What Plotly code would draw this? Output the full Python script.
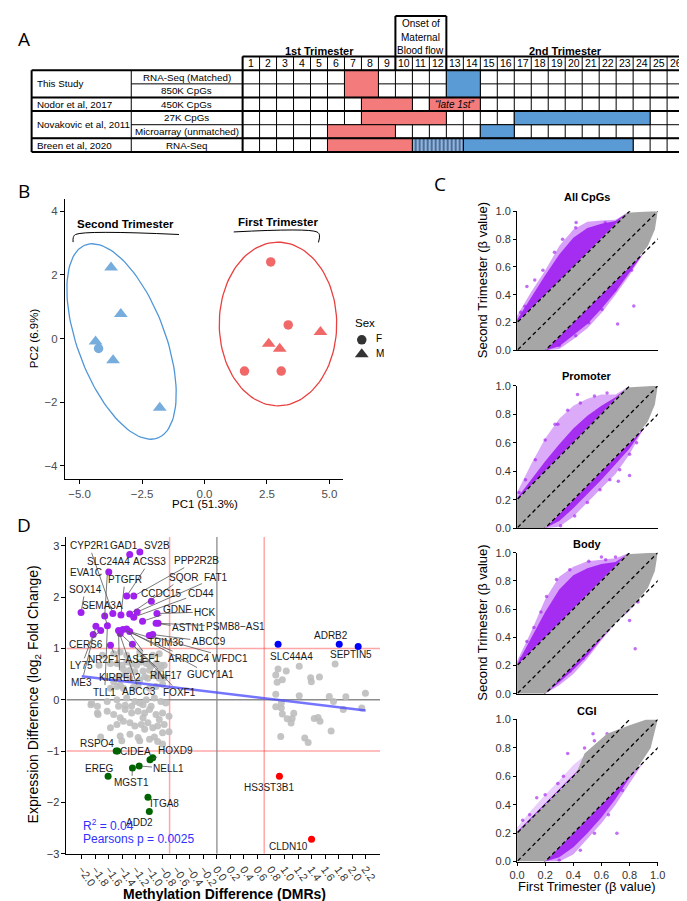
import math
import plotly.graph_objects as go

W, H = 687, 901
FONT = "Liberation Sans, Arial, Helvetica, sans-serif"
LFONT = "Open Sans, Liberation Sans, sans-serif"

# ====================== DATA ======================
# ---- Panel A: study timeline table ----
week_numbers = list(range(1, 27))
study_names = ["This Study", "Nodor et al, 2017", "Novakovic et al, 2011", "Breen et al, 2020"]
study_row_start = [0, 2, 3, 5]
study_row_end = [2, 3, 5, 6]
platform_names = ["RNA-Seq (Matched)", "850K CpGs", "450K CpGs", "27K CpGs",
                  "Microarray (unmatched)", "RNA-Seq"]
block_row_start = [0, 0, 2, 2, 3, 3, 4, 4, 5, 5, 5]
block_row_end = [2, 2, 3, 3, 4, 4, 5, 5, 6, 6, 6]
block_week_start = [7, 13, 8, 12, 8, 17, 6, 15, 6, 11, 14]
block_week_end = [8, 14, 10, 14, 12, 24, 9, 16, 10, 13, 23]
block_kind = ["first", "second", "first", "late", "first", "second", "first", "second",
              "first", "onset", "second"]
trimester_labels = ["1st Trimester", "2nd Trimester"]
trimester_first_week = [1, 13]
trimester_last_week = [9, 26]
onset_first_week, onset_last_week = 10, 12
onset_lines = ["Onset of", "Maternal", "Blood flow"]
late_label = "\u201clate 1st\u201d"

# ---- Panel B: PCA ----
pc2nd_m_x = [-3.74, -3.35, -4.36, -3.66, -1.79]
pc2nd_m_y = [2.23, 0.77, -0.09, -0.68, -2.17]
pc2nd_f_x = [-4.24]
pc2nd_f_y = [-0.31]
pc1st_f_x = [2.65, 3.35, 1.60, 3.07]
pc1st_f_y = [2.41, 0.43, -1.02, -1.02]
pc1st_m_x = [2.57, 3.01, 4.64]
pc1st_m_y = [-0.16, -0.32, 0.21]
pc1_title = "PC1 (51.3%)"
pc2_title = "PC2 (6.9%)"
pc_xticks = [-5.0, -2.5, 0.0, 2.5, 5.0]
pc_yticks = [-4, -2, 0, 2, 4]
sec_bracket_x = [-5.26, -5.25, -5.16, -1.02]
sec_bracket_y = [3.03, 3.18, 3.27, 3.27]
first_bracket_x = [1.17, 4.50, 4.60, 4.56]
first_bracket_y = [3.35, 3.35, 3.25, 3.02]

# ---- Panel C: beta value clouds (outlines) ----
c_titles = ["All CpGs", "Promoter", "Body", "CGI"]
up_x = [0.0, 0.1, 0.2, 0.3, 0.4, 0.5, 0.6, 0.7, 0.8]
lo_x = [0.2, 0.3, 0.4, 0.5, 0.6, 0.7, 0.8, 0.9, 1.0]
all_up_outer = [0.25, 0.42, 0.575, 0.75, 0.87, 0.925, 0.935, 0.94, 1.0]
all_up_dense = [0.22, 0.38, 0.54, 0.69, 0.81, 0.88, 0.91, 0.93, 1.0]
all_lo_outer = [0.0, 0.01, 0.08, 0.16, 0.27, 0.40, 0.54, 0.70, 0.80]
all_lo_dense = [0.0, 0.03, 0.11, 0.19, 0.30, 0.42, 0.56, 0.70, 0.80]
pro_up_outer = [0.25, 0.45, 0.63, 0.77, 0.86, 0.91, 0.94, 0.94, 1.0]
pro_up_dense = [0.21, 0.34, 0.47, 0.59, 0.70, 0.79, 0.86, 0.92, 1.0]
pro_lo_outer = [0.0, 0.01, 0.08, 0.18, 0.28, 0.38, 0.52, 0.70, 0.80]
pro_lo_dense = [0.0, 0.05, 0.14, 0.24, 0.34, 0.45, 0.56, 0.70, 0.80]
body_up_outer = [0.23, 0.44, 0.67, 0.83, 0.90, 0.94, 0.95, 0.96, 1.0]
body_up_dense = [0.21, 0.39, 0.58, 0.74, 0.84, 0.89, 0.92, 0.935, 1.0]
body_lo_outer = [0.0, 0.06, 0.14, 0.25, 0.38, 0.50, 0.59, 0.70, 0.80]
body_lo_dense = [0.0, 0.08, 0.17, 0.27, 0.39, 0.50, 0.60, 0.70, 0.80]
cgi_up_outer = [0.24, 0.36, 0.47, 0.57, 0.68, 0.76, 0.84, 0.91, 1.0]
cgi_up_dense = [0.21, 0.31, 0.41, 0.51, 0.61, 0.71, 0.81, 0.90, 1.0]
cgi_lo_outer = [0.0, 0.0, 0.05, 0.16, 0.27, 0.40, 0.55, 0.70, 0.80]
cgi_lo_dense = [0.0, 0.03, 0.10, 0.20, 0.31, 0.44, 0.59, 0.70, 0.80]
cloud_alpha_outer = [0.42, 0.38, 0.42, 0.22]
grey_x = [0.0, 0.2, 0.85, 0.93, 0.98, 1.0, 0.96, 0.78, 0.0]
grey_y = [0.0, 0.0, 0.65, 0.75, 0.87, 1.0, 1.0, 0.99, 0.2]
cgi_grey_x = [0.0, 0.2, 0.85, 0.95, 1.0, 0.92, 0.8, 0.64, 0.48, 0.42, 0.0]
cgi_grey_y = [0.0, 0.0, 0.65, 0.80, 1.0, 1.0, 0.96, 0.90, 0.76, 0.62, 0.2]
all_out_x = [0.83, 0.715, 0.42, 0.07, 0.026, 0.056, 0.126, 0.184, 0.266, 0.324, 0.417, 0.627,
             0.837, 0.814, 0.697, 0.604, 0.51, 0.417, 0.30]
all_out_y = [0.32, 0.19, 0.92, 0.46, 0.275, 0.318, 0.506, 0.576, 0.706, 0.80, 0.882, 0.918,
             0.659, 0.576, 0.435, 0.294, 0.20, 0.106, 0.035]
pro_out_x = [0.29, 0.43, 0.72, 0.80, 0.014, 0.06, 0.13, 0.20, 0.27, 0.36, 0.45, 0.55, 0.64,
             0.31, 0.41, 0.50, 0.59, 0.66, 0.73, 0.80, 0.85, 0.88]
pro_out_y = [0.73, 0.94, 0.33, 0.37, 0.25, 0.34, 0.48, 0.62, 0.73, 0.83, 0.88, 0.93, 0.95,
             0.016, 0.085, 0.18, 0.27, 0.34, 0.41, 0.52, 0.60, 0.69]
body_out_x = [0.84, 0.60, 0.03, 0.07, 0.12, 0.17, 0.21, 0.28, 0.375, 0.51, 0.63, 0.70,
              0.28, 0.375, 0.47, 0.56, 0.65, 0.77, 0.86, 0.80]
body_out_y = [0.32, 0.97, 0.25, 0.37, 0.47, 0.58, 0.69, 0.81, 0.88, 0.94, 0.95, 0.97,
              0.09, 0.16, 0.25, 0.37, 0.48, 0.58, 0.65, 0.52]
cgi_out_x = [0.71, 0.54, 0.36, 0.29, 0.04, 0.09, 0.14, 0.20, 0.33, 0.48, 0.55, 0.64,
             0.75, 0.65, 0.55, 0.45, 0.30]
cgi_out_y = [0.20, 0.90, 0.76, 0.55, 0.29, 0.33, 0.45, 0.47, 0.60, 0.80, 0.85, 0.90,
             0.50, 0.33, 0.20, 0.08, 0.01]
diff_cut = 0.2
diag_offsets = [0.2, 0.0, -0.2]
beta_ticks = [0.0, 0.2, 0.4, 0.6, 0.8, 1.0]

# ---- Panel D: methylation vs expression ----
grey_dx = [-1.479, -1.407, -1.334, -1.262, -1.19, -1.118, -1.045, -0.973, -0.901, -0.829,
           -1.383, -1.286, -1.214, -1.093, -0.997, -0.877, -1.455, -1.358, -1.286, -1.069,
           -1.142, -1.021, -0.925, -0.853, -0.78, -1.527, -1.479, -1.383, -1.431, -1.238,
           -1.166, -0.997, -0.901, -0.804, -1.575, -1.864, -1.768, -1.623, -1.479, -1.334,
           -1.214, -1.142, -1.045, -0.925, -0.829, -0.756, -1.455, -1.358, -1.262, -1.093,
           -0.973, -1.768, -1.623, -1.527, -1.358, -1.262, -1.166, -1.069, -0.997, -0.901,
           -0.804, -0.708, -1.431, -1.093, -0.853, -1.575, -1.479, -1.383, -1.286, -1.214,
           -1.118, -1.021, -0.949, -0.877, -0.78, -1.069, -0.804, -0.708, -1.72, -1.431,
           -1.286, -1.166, -0.997, -0.925, -1.142, -0.877, -0.804, -1.696, -1.527, -1.43,
           -1.334, -1.142, -0.949, -0.853, -1.744, -1.575, -0.997, -0.829, -0.78, -1.758,
           -1.407, -1.854,
           0.905, 1.218, 0.871, 1.026, 0.891, 0.968, 1.387, 1.397, 1.517, 1.749, 0.871, 1.218,
           1.662, 1.725, 1.908, 2.197, 0.871, 0.953, 0.968, 1.137, 1.04, 1.113, 1.098, 1.44,
           1.497, 1.526, 1.869, 2.143, 1.69, 0.944, 1.30, 1.35, 0.953]
grey_dy = [0.705, 0.673, 0.737, 0.705, 0.673, 0.737, 0.705, 0.66, 0.705, 0.673,
           0.596, 0.577, 0.545, 0.558, 0.577, 0.545, 0.449, 0.481, 0.417, 0.449,
           0.385, 0.417, 0.468, 0.417, 0.429, 0.353, 0.256, 0.224, 0.288, 0.237,
           0.288, 0.224, 0.256, 0.301, 0.224, -0.096, -0.128, -0.032, 0.0, 0.032,
           -0.032, -0.064, 0.0, 0.032, -0.032, -0.064, -0.128, -0.109, -0.128, -0.096,
           -0.128, -0.256, -0.224, -0.288, -0.192, -0.256, -0.224, -0.256, -0.192, -0.288,
           -0.256, -0.32, -0.353, -0.353, -0.385, -0.545, -0.481, -0.417, -0.449, -0.513,
           -0.481, -0.449, -0.545, -0.513, -0.481, -0.577, -0.641, -0.622, -0.724, -0.705,
           -0.673, -0.737, -0.769, -0.724, -0.801, -0.814, -0.865, 0.865, 0.897, 0.93,
           0.865, 0.93, 0.865, 0.897, 0.673, 0.705, 0.673, 0.609, 0.673, -0.29,
           -0.80, -0.064,
           0.60, 0.654, 0.481, 0.558, 0.34, 0.39, 0.429, 0.353, 0.442, 0.699, 0.109, 0.077,
           0.064, -0.032, 0.058, 0.128, -0.135, -0.16, -0.276, -0.263, -0.372, -0.365, -0.455, -0.365,
           -0.346, -0.417, -0.192, -0.16, -0.609, -0.718, -0.744, -0.833, -0.064]
purple_dx = [-1.14, -1.29, -1.60, -1.335, -1.23, -0.97, -2.01, -1.66, -1.54, -1.42, -1.29, -1.18,
             -1.23, -0.887, -1.10, -0.90, -0.87, -1.79, -1.62, -1.72, -1.83, -1.455, -1.39,
             -1.335, -1.29, -1.43, -1.0, -0.95, -1.575, -1.25]
purple_dy = [2.88, 2.83, 2.49, 2.02, 2.02, 1.92, 1.70, 1.63, 1.68, 1.65, 1.67, 1.71,
             1.61, 1.68, 1.53, 1.49, 1.49, 1.43, 1.44, 1.35, 1.27, 1.35, 1.37,
             1.38, 1.33, 1.29, 1.25, 1.27, 1.06, 1.08]
green_dx = [-1.49, -1.47, -0.99, -0.95, -1.15, -1.25, -1.61, -1.02, -1.0]
green_dy = [-1.0, -1.0, -1.17, -1.13, -1.29, -1.33, -1.49, -1.90, -2.18]
blue_dx = [0.905, 1.81, 2.09]
blue_dy = [1.08, 1.08, 1.04]
red_dx = [0.925, 1.40]
red_dy = [-1.49, -2.72]
reg_x = [-2.0, 2.2]
reg_y = [0.46, -0.21]
meth_cut = 0.7
expr_cut = 1.0
d_xticks = [round(-2.0 + 0.2 * i, 1) for i in range(22)]
d_yticks = [-3, -2, -1, 0, 1, 2, 3]

lab_names = ["CYP2R1", "GAD1", "SV2B", "SLC24A4", "ACSS3", "PPP2R2B", "EVA1C", "PTGFR",
             "SQOR", "FAT1", "SOX14", "CCDC15", "CD44", "SEMA3A", "GDNF", "HCK", "ASTN1",
             "PSMB8\u2212AS1", "CERS6", "TRIM36", "ABCC9", "LY75", "NR2F1\u2212AS1", "LEF1",
             "ARRDC4", "WFDC1", "ME3", "KIRREL2", "RNF17", "GUCY1A1", "TLL1", "ABCC3", "FOXF1",
             "RSPO4", "CIDEA", "HOXD9", "NELL1", "MGST1", "EREG", "ITGA8", "ADD2",
             "SLC44A4", "ADRB2", "SEPTIN5", "HS3ST3B1", "CLDN10"]
lab_px = [-1.54, -1.29, -1.14, -1.66, -1.335, -1.23, -1.60, -1.42, -1.29, -1.18, -2.01, -0.97,
          -1.23, -1.62, -1.10, -0.887, -0.90, -0.87, -1.72, -1.29, -0.95, -1.83, -1.575, -1.335,
          -1.39, -1.0, -1.79, -1.455, -1.43, -1.29, -1.62, -1.455, -1.25,
          -1.49, -1.47, -0.99, -1.15, -1.25, -1.61, -1.02, -1.0,
          0.905, 1.81, 2.09, 0.925, 1.40]
lab_py = [1.68, 2.83, 2.88, 1.63, 2.02, 2.02, 2.49, 1.65, 1.67, 1.71, 1.70, 1.92,
          1.61, 1.44, 1.53, 1.68, 1.49, 1.49, 1.35, 1.33, 1.27, 1.27, 1.06, 1.38,
          1.37, 1.25, 1.43, 1.35, 1.29, 1.33, 1.44, 1.35, 1.08,
          -1.0, -1.0, -1.17, -1.29, -1.33, -1.49, -1.90, -2.18,
          1.08, 1.08, 1.04, -1.49, -2.72]
lab_tx = [-1.89, -1.38, -0.89, -1.61, -1.0, -0.30, -1.94, -1.36, -0.49, -0.02, -1.95, -0.82,
          -0.24, -1.70, -0.59, -0.18, -0.42, 0.28, -1.94, -0.76, -0.12, -2.0, -1.48, -1.02,
          -0.42, 0.20, -2.0, -1.44, -0.76, -0.10, -1.66, -1.15, -0.56,
          -1.77, -1.20, -0.61, -0.71, -1.26, -1.73, -0.77, -1.15,
          1.11, 1.685, 1.98, 0.775, 1.065]
lab_ty = [3.0, 3.0, 3.0, 2.69, 2.69, 2.71, 2.48, 2.34, 2.38, 2.38, 2.15, 2.08,
          2.08, 1.83, 1.75, 1.71, 1.40, 1.42, 1.07, 1.12, 1.13, 0.67, 0.78, 0.81,
          0.81, 0.81, 0.34, 0.44, 0.47, 0.49, 0.15, 0.16, 0.14,
          -0.85, -1.0, -0.98, -1.34, -1.62, -1.34, -2.02, -2.39,
          0.85, 1.26, 0.88, -1.72, -2.87]
lab_seg = [1, 0, 0, 1, 1, 1, 0, 1, 1, 1, 1, 0,
           1, 1, 1, 1, 1, 1, 1, 1, 1, 1, 1, 1,
           1, 1, 1, 1, 1, 1, 1, 1, 1,
           0, 0, 1, 1, 1, 0, 0, 0,
           0, 0, 0, 0, 0]

# ====================== LAYOUT HELPERS ======================
def dom_x(a, b):
    return [a / W, b / W]

def dom_y(top, bottom):
    return [1 - bottom / H, 1 - top / H]

annotations = []
shapes = []

def ptext(x, y, s, size=11, color="black", xanchor="center", yanchor="middle",
          angle=0, family=FONT):
    annotations.append(dict(x=x / W, y=1 - y / H, xref="paper", yref="paper", text=s,
                            showarrow=False, xanchor=xanchor, yanchor=yanchor,
                            textangle=angle, font=dict(size=size, color=color, family=family)))

fig = go.Figure()

# ====================== PANEL A ======================
A_LEFT_PX, A_SPLIT_PX, A_GRID_PX, A_RIGHT_PX = 16, 118, 232, 684
A_ROW_TOP_PX, A_ROW_H = 57.0, 13.8
col_w = (A_RIGHT_PX - A_GRID_PX) / 26.0

def wk_u(p):
    return 0.5 + (p - A_GRID_PX) / col_w

def row_u(p):
    return (p - A_ROW_TOP_PX) / A_ROW_H

t_left, t_split, t_right = wk_u(A_LEFT_PX), wk_u(A_SPLIT_PX), 26.5
onset_top = row_u(2)

def aline(x0, y0, x1, y1, w=1, layer="below"):
    shapes.append(dict(type="line", xref="x", yref="y", x0=x0, y0=y0, x1=x1, y1=y1,
                       line=dict(color="black", width=w), layer=layer))

for k in range(27):
    aline(k + 0.5, -1, k + 0.5, 6)
for r in range(1, 6):
    aline(t_split if r in (1, 4) else t_left, r, t_right, r)
aline(t_split, 0, t_split, 6)

colors = {"first": "#F37B7B", "late": "#F37B7B", "second": "#5B9BD5"}
for r0, r1, w0, w1, kind in zip(block_row_start, block_row_end, block_week_start,
                                 block_week_end, block_kind):
    if kind == "onset":
        fig.add_trace(go.Scatter(
            x=[w0 - 0.5, w1 + 0.5, w1 + 0.5, w0 - 0.5, w0 - 0.5], y=[r0, r0, r1, r1, r0],
            mode="lines", fill="toself", line=dict(color="black", width=1),
            fillcolor="#8DB6E0",
            fillpattern=dict(shape="|", fgcolor="#16244D", bgcolor="#8DB6E0", size=4, solidity=0.5),
            xaxis="x", yaxis="y", hoverinfo="skip"))
    else:
        shapes.append(dict(type="rect", xref="x", yref="y", x0=w0 - 0.5, x1=w1 + 0.5,
                           y0=r0, y1=r1, fillcolor=colors[kind],
                           line=dict(color="black", width=1), layer="below"))

TH = 2
for (x0, y0, x1, y1) in [(t_left, 0, t_right, 0), (t_left, 6, t_right, 6),
                         (t_left, 0, t_left, 6), (t_right, -1, t_right, 6),
                         (0.5, -1, t_right, -1), (0.5, -1, 0.5, 6),
                         (t_left, 2, t_right, 2), (t_left, 3, t_right, 3), (t_left, 5, t_right, 5),
                         (onset_first_week - 0.5, onset_top, onset_last_week + 0.5, onset_top),
                         (onset_first_week - 0.5, onset_top, onset_first_week - 0.5, 0),
                         (onset_last_week + 0.5, onset_top, onset_last_week + 0.5, 0)]:
    aline(x0, y0, x1, y1, w=TH, layer="above")

def atext(x, y, s, size=10.5, xanchor="center", color="black"):
    annotations.append(dict(x=x, y=y, xref="x", yref="y", text=s, showarrow=False,
                            xanchor=xanchor, yanchor="middle",
                            font=dict(size=size, color=color, family=FONT)))

for k in week_numbers:
    atext(k, -0.5, str(k))
for lab, a, b in zip(trimester_labels, trimester_first_week, trimester_last_week):
    atext((a + b) / 2, row_u(37), "<b>" + lab + "</b>", size=11)
for i, s in enumerate(onset_lines):
    atext((onset_first_week + onset_last_week) / 2, row_u(10 + 13.5 * i), s, size=10)
for s, a, b in zip(study_names, study_row_start, study_row_end):
    atext(wk_u(19), (a + b) / 2, s, xanchor="left", size=9.8)
for i, s in enumerate(platform_names):
    atext((t_split + 0.5) / 2, i + 0.5, s, size=9.8)
atext(13, 2.5, "<i>" + late_label + "</i>", size=10)

# ====================== PANEL B ======================
B_XPX, B_YPX = (50, 335), (187, 471)
B_XR, B_YR = (-5.59, 5.55), (-4.4, 4.4)
bsx = (B_XPX[1] - B_XPX[0]) / (B_XR[1] - B_XR[0])
bsy = (B_YPX[1] - B_YPX[0]) / (B_YR[1] - B_YR[0])
BLUE_PT, RED_PT = "#68A4D8", "#EE5858"
BLUE_EL, RED_EL = "#4F96D8", "#E8403F"

def ellipse(cx, cy, a_px, b_px, tilt_deg, n=120):
    th = math.radians(tilt_deg)
    ux, uy = math.sin(th), math.cos(th)
    vx, vy = math.cos(th), -math.sin(th)
    xs, ys = [], []
    for i in range(n + 1):
        t = 2 * math.pi * i / n
        dx = a_px * math.cos(t) * ux + b_px * math.sin(t) * vx
        dy = a_px * math.cos(t) * uy + b_px * math.sin(t) * vy
        xs.append(cx + dx / bsx)
        ys.append(cy - dy / bsy)
    return xs, ys

ex, ey = ellipse(-3.32, -0.09, 104.6, 44.8, 20.8)
fig.add_trace(go.Scatter(x=ex, y=ey, mode="lines", line=dict(color=BLUE_EL, width=1.3),
                         xaxis="x2", yaxis="y2", hoverinfo="skip"))
ex, ey = ellipse(2.94, 0.46, 2.57 * bsy, 2.35 * bsx, 0.0)
fig.add_trace(go.Scatter(x=ex, y=ey, mode="lines", line=dict(color=RED_EL, width=1.3),
                         xaxis="x2", yaxis="y2", hoverinfo="skip"))
for xs, ys, col, sym, sz in [(pc2nd_m_x, pc2nd_m_y, BLUE_PT, "triangle-up", 12),
                             (pc2nd_f_x, pc2nd_f_y, BLUE_PT, "circle", 9.5),
                             (pc1st_f_x, pc1st_f_y, RED_PT, "circle", 9.5),
                             (pc1st_m_x, pc1st_m_y, RED_PT, "triangle-up", 12)]:
    fig.add_trace(go.Scatter(x=xs, y=ys, mode="markers", xaxis="x2", yaxis="y2",
                             marker=dict(color=col, symbol=sym, size=sz, opacity=0.9,
                                         line=dict(width=0)), hoverinfo="skip"))
for bx, by in [(sec_bracket_x, sec_bracket_y), (first_bracket_x, first_bracket_y)]:
    fig.add_trace(go.Scatter(x=bx, y=by, mode="lines", line=dict(color="black", width=1),
                             line_shape="spline", xaxis="x2", yaxis="y2", hoverinfo="skip"))
annotations.append(dict(x=-3.16, y=3.59, xref="x2", yref="y2", text="<b>Second Trimester</b>",
                        showarrow=False, font=dict(size=11.5, family=FONT, color="black")))
annotations.append(dict(x=2.93, y=3.65, xref="x2", yref="y2", text="<b>First Trimester</b>",
                        showarrow=False, font=dict(size=11.5, family=FONT, color="black")))
ptext(193, 497, pc1_title, size=11.5)
ptext(18, 329, pc2_title, size=11.5, angle=-90)

fig.add_trace(go.Scatter(x=[0.225], y=[0.68], mode="markers", xaxis="x8", yaxis="y8",
                         marker=dict(color="#333333", symbol="circle", size=9.5), hoverinfo="skip"))
fig.add_trace(go.Scatter(x=[0.225], y=[0.22], mode="markers", xaxis="x8", yaxis="y8",
                         marker=dict(color="#333333", symbol="triangle-up", size=12), hoverinfo="skip"))
ptext(345, 313, "Sex", size=11.5, xanchor="left")
ptext(367, 329, "F", size=10, xanchor="left")
ptext(367, 344, "M", size=10, xanchor="left")

# ====================== PANEL C ======================
C_XPX = (513, 657)
C_YPX = [(200, 341), (377, 521), (546, 689), (715, 859)]
C_TITLE_Y = [185, 367, 537, 706]
PURPLE = "160,32,240"
GREY = "#A6A6A6"
panels = [
    (all_up_outer, all_up_dense, all_lo_outer, all_lo_dense, grey_x, grey_y, all_out_x, all_out_y),
    (pro_up_outer, pro_up_dense, pro_lo_outer, pro_lo_dense, grey_x, grey_y, pro_out_x, pro_out_y),
    (body_up_outer, body_up_dense, body_lo_outer, body_lo_dense, grey_x, grey_y, body_out_x, body_out_y),
    (cgi_up_outer, cgi_up_dense, cgi_lo_outer, cgi_lo_dense, cgi_grey_x, cgi_grey_y, cgi_out_x, cgi_out_y),
]

def poly(xs, ys, sign):
    line = [x + sign * diff_cut for x in xs]
    return xs + xs[::-1] + [xs[0]], ys + line[::-1] + [ys[0]]

for i, (uo, ud, lo, ld, gx, gy, ox, oy) in enumerate(panels):
    xa, ya = "x%d" % (i + 3), "y%d" % (i + 3)
    a_out = cloud_alpha_outer[i]
    for xs, ys, sign, alpha in [(up_x, uo, 1, a_out), (lo_x, lo, -1, 0.42),
                                (up_x, ud, 1, 0.9), (lo_x, ld, -1, 0.9)]:
        px_, py_ = poly(xs, ys, sign)
        fig.add_trace(go.Scatter(x=px_, y=py_, mode="lines", fill="toself",
                                 fillcolor="rgba(%s,%s)" % (PURPLE, alpha),
                                 line=dict(width=0, color="rgba(0,0,0,0)"),
                                 xaxis=xa, yaxis=ya, hoverinfo="skip"))
    fig.add_trace(go.Scatter(x=ox, y=oy, mode="markers", xaxis=xa, yaxis=ya,
                             marker=dict(color="rgba(%s,0.65)" % PURPLE, size=3.5),
                             hoverinfo="skip"))
    fig.add_trace(go.Scatter(x=gx + [gx[0]], y=gy + [gy[0]], mode="lines", fill="toself",
                             fillcolor=GREY, line=dict(width=0, color=GREY),
                             xaxis=xa, yaxis=ya, hoverinfo="skip"))
    for off in diag_offsets:
        fig.add_trace(go.Scatter(x=[-0.1, 1.1], y=[-0.1 + off, 1.1 + off], mode="lines",
                                 line=dict(color="black", width=1.3, dash="4px,3px"),
                                 xaxis=xa, yaxis=ya, hoverinfo="skip"))
    ptext(585, C_TITLE_Y[i], "<b>" + c_titles[i] + "</b>", size=11)

ptext(478, 270, "Second Trimester (\u03b2 value)", size=13, angle=-90)
ptext(478, 617, "Second Trimester (\u03b2 value)", size=13, angle=-90)
ptext(585, 884, "First Trimester (\u03b2 value)", size=13)

# ====================== PANEL D ======================
D_XPX, D_YPX = (51.7, 372.7), (530, 851)
D_XR, D_YR = (-2.2254, 2.4133), (-3.0, 3.173)
ln_red = dict(color="rgba(255,60,60,0.45)", width=1.5)
ln_grey = dict(color="#8C8C8C", width=1.3)
for v in (-meth_cut, meth_cut):
    shapes.append(dict(type="line", xref="x7", yref="y7", x0=v, x1=v, y0=D_YR[0], y1=D_YR[1],
                       line=ln_red, layer="below"))
for v in (-expr_cut, expr_cut):
    shapes.append(dict(type="line", xref="x7", yref="y7", y0=v, y1=v, x0=D_XR[0], x1=D_XR[1],
                       line=ln_red, layer="below"))
shapes.append(dict(type="line", xref="x7", yref="y7", x0=0, x1=0, y0=D_YR[0], y1=D_YR[1],
                   line=ln_grey, layer="below"))
shapes.append(dict(type="line", xref="x7", yref="y7", y0=0, y1=0, x0=D_XR[0], x1=D_XR[1],
                   line=ln_grey, layer="below"))

fig.add_trace(go.Scatter(x=grey_dx, y=grey_dy, mode="markers", xaxis="x7", yaxis="y7",
                         marker=dict(color="rgba(190,190,190,0.9)", size=7), hoverinfo="skip"))
fig.add_trace(go.Scatter(x=reg_x, y=reg_y, mode="lines", xaxis="x7", yaxis="y7",
                         line=dict(color="rgba(70,70,255,0.75)", width=2.5), hoverinfo="skip"))
for xs, ys, col in [(purple_dx, purple_dy, "#A020F0"), (green_dx, green_dy, "#006400"),
                    (blue_dx, blue_dy, "#0000FF"), (red_dx, red_dy, "#FF0000")]:
    fig.add_trace(go.Scatter(x=xs, y=ys, mode="markers", xaxis="x7", yaxis="y7",
                             marker=dict(color=col, size=7), hoverinfo="skip"))

for name, x0, y0, tx, ty, seg in zip(lab_names, lab_px, lab_py, lab_tx, lab_ty, lab_seg):
    f = dict(size=10, family=FONT, color="#1a1a1a")
    if seg:
        annotations.append(dict(x=x0, y=y0, xref="x7", yref="y7", ax=tx, ay=ty,
                                axref="x7", ayref="y7", text=name, showarrow=True,
                                arrowhead=0, arrowwidth=0.8, arrowcolor="#555555",
                                standoff=3, font=f))
    else:
        annotations.append(dict(x=tx, y=ty, xref="x7", yref="y7", text=name,
                                showarrow=False, font=f))

ptext(67, 822, "R<sup>2</sup> = 0.04", size=12, color="#3030FF", xanchor="left")
ptext(67, 836, "Pearsons p = 0.0025", size=12, color="#3030FF", xanchor="left")
ptext(213, 892, "<b>Methylation Difference (DMRs)</b>", size=14)
ptext(18, 690, "Expression Difference (log<sub>2</sub> Fold Change)", size=14, angle=-90)

ptext(8, 25, "A", size=19, family=LFONT)
ptext(8, 179, "B", size=19, family=LFONT)
ptext(434, 172, "C", size=19, family=LFONT)
ptext(8, 518, "D", size=19, family=LFONT)

# ====================== AXES ======================
def minus(s):
    return s.replace("-", "\u2212")

hidden = dict(visible=False, showgrid=False, zeroline=False, fixedrange=True)
axes = {}
axes["xaxis"] = dict(hidden, domain=dom_x(14, 686), range=[wk_u(14), wk_u(686)], anchor="y")
axes["yaxis"] = dict(hidden, domain=dom_y(0, 142), range=[row_u(142), row_u(0)], anchor="x")

tick_common = dict(showgrid=False, zeroline=False, showline=True, linecolor="black",
                   linewidth=1, ticks="outside", ticklen=4, tickcolor="black",
                   tickfont=dict(size=11.5, color="#4D4D4D", family=FONT))
axes["xaxis2"] = dict(tick_common, domain=dom_x(*B_XPX), range=list(B_XR), anchor="y2",
                      tickvals=pc_xticks, ticktext=[minus("%.1f" % v) for v in pc_xticks])
axes["yaxis2"] = dict(tick_common, domain=dom_y(*B_YPX), range=list(B_YR), anchor="x2",
                      tickvals=pc_yticks, ticktext=[minus(str(v)) for v in pc_yticks])
c_tick = dict(tick_common, tickfont=dict(size=11, color="#333333", family=FONT), ticklen=3)
for i in range(4):
    n = i + 3
    xa = dict(c_tick, domain=dom_x(*C_XPX), range=[0, 1.0], anchor="y%d" % n,
              tickvals=beta_ticks, ticktext=["%.1f" % v for v in beta_ticks])
    if i < 3:
        xa.update(showticklabels=False, ticks="")
    axes["xaxis%d" % n] = xa
    axes["yaxis%d" % n] = dict(c_tick, domain=dom_y(*C_YPX[i]), range=[0, 1.0],
                               anchor="x%d" % n, tickvals=beta_ticks,
                               ticktext=["%.1f" % v for v in beta_ticks])
d_tick = dict(tick_common, tickfont=dict(size=11, color="#333333", family=FONT))
axes["xaxis7"] = dict(d_tick, domain=dom_x(*D_XPX), range=list(D_XR), anchor="y7",
                      tickvals=d_xticks, ticktext=[minus("%.1f" % v) for v in d_xticks],
                      tickangle=55)
axes["yaxis7"] = dict(d_tick, domain=dom_y(*D_YPX), range=list(D_YR), anchor="x7",
                      tickvals=d_yticks, ticktext=[minus(str(v)) for v in d_yticks])
axes["xaxis8"] = dict(hidden, domain=dom_x(345, 385), range=[0, 1], anchor="y8")
axes["yaxis8"] = dict(hidden, domain=dom_y(320, 352), range=[0, 1], anchor="x8")

fig.update_layout(width=W, height=H, margin=dict(l=0, r=0, t=0, b=0, pad=0),
                  paper_bgcolor="white", plot_bgcolor="white", showlegend=False,
                  font=dict(family=FONT, color="black"),
                  shapes=shapes, annotations=annotations, **axes)
fig.write_html("out.html")
